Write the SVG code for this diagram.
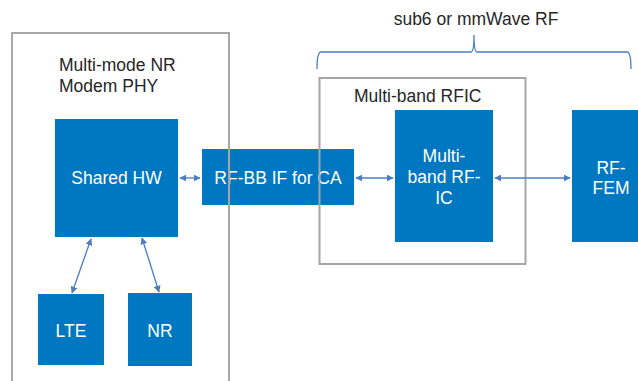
<svg xmlns="http://www.w3.org/2000/svg" width="638" height="381" viewBox="0 0 638 381">
<defs>
<style>
.blk{fill:#0078c1;}
.grp{fill:none;stroke:#a6a6a6;stroke-width:2;}
.wt{fill:#ffffff;font-family:"Liberation Sans",Arial,sans-serif;font-size:17.5px;text-anchor:middle;}
.dt{fill:#262626;font-family:"Liberation Sans",Arial,sans-serif;font-size:17.5px;}
.con{stroke:#4a7cc4;stroke-width:1.3;fill:none;marker-start:url(#ah);marker-end:url(#ah);}
.brace{stroke:#4a7cc4;stroke-width:1.3;fill:none;}
</style>
<marker id="ah" viewBox="0 0 10 10" refX="9" refY="5" markerWidth="7" markerHeight="7" markerUnits="userSpaceOnUse" orient="auto-start-reverse">
<path d="M0,0 L10,5 L0,10 z" fill="#4a7cc4"/>
</marker>
</defs>
<rect width="638" height="381" fill="#ffffff"/>

<g id="shared-hw">
<rect class="blk" x="55" y="119" width="123" height="118"/>
<text class="wt" x="116.5" y="184">Shared HW</text>
</g>
<g id="rf-bb-if">
<rect class="blk" x="202" y="149" width="152" height="56"/>
<text class="wt" x="278" y="184">RF-BB IF for CA</text>
</g>
<g id="lte">
<rect class="blk" x="38" y="294" width="66" height="71"/>
<text class="wt" x="71" y="337">LTE</text>
</g>
<g id="nr">
<rect class="blk" x="128" y="293" width="64" height="73"/>
<text class="wt" x="160" y="337">NR</text>
</g>
<g id="multiband-rf-ic">
<rect class="blk" x="395" y="110" width="98" height="132"/>
<text class="wt" x="444" y="162">Multi-</text>
<text class="wt" x="444" y="183">band RF-</text>
<text class="wt" x="444" y="204">IC</text>
</g>
<g id="rf-fem">
<rect class="blk" x="572" y="110" width="70" height="132"/>
<text class="wt" x="611" y="174">RF-</text>
<text class="wt" x="611" y="194">FEM</text>
</g>

<g id="modem-phy">
<path class="grp" d="M12,382 V33 H229 V382"/>
<text class="dt" x="59" y="71">Multi-mode NR</text>
<text class="dt" x="59" y="92">Modem PHY</text>
</g>
<g id="multiband-rfic">
<rect class="grp" x="319.5" y="78" width="206" height="186"/>
<text class="dt" x="354" y="102">Multi-band RFIC</text>
</g>
<g id="sub6-brace">
<path class="brace" d="M317,69 Q317,52 321,52 H471 Q474,52 474,35 Q474,52 477,52 H627 Q631,52 631,69"/>
<text class="dt" x="476" y="25" text-anchor="middle">sub6 or mmWave RF</text>
</g>

<g id="connectors">
<line class="con" x1="180" y1="178" x2="200" y2="178"/>
<line class="con" x1="356" y1="178" x2="393" y2="178"/>
<line class="con" x1="495" y1="178" x2="570" y2="178"/>
<line class="con" x1="91" y1="239" x2="72" y2="293"/>
<line class="con" x1="142" y1="238" x2="159" y2="292"/>
</g>
</svg>
